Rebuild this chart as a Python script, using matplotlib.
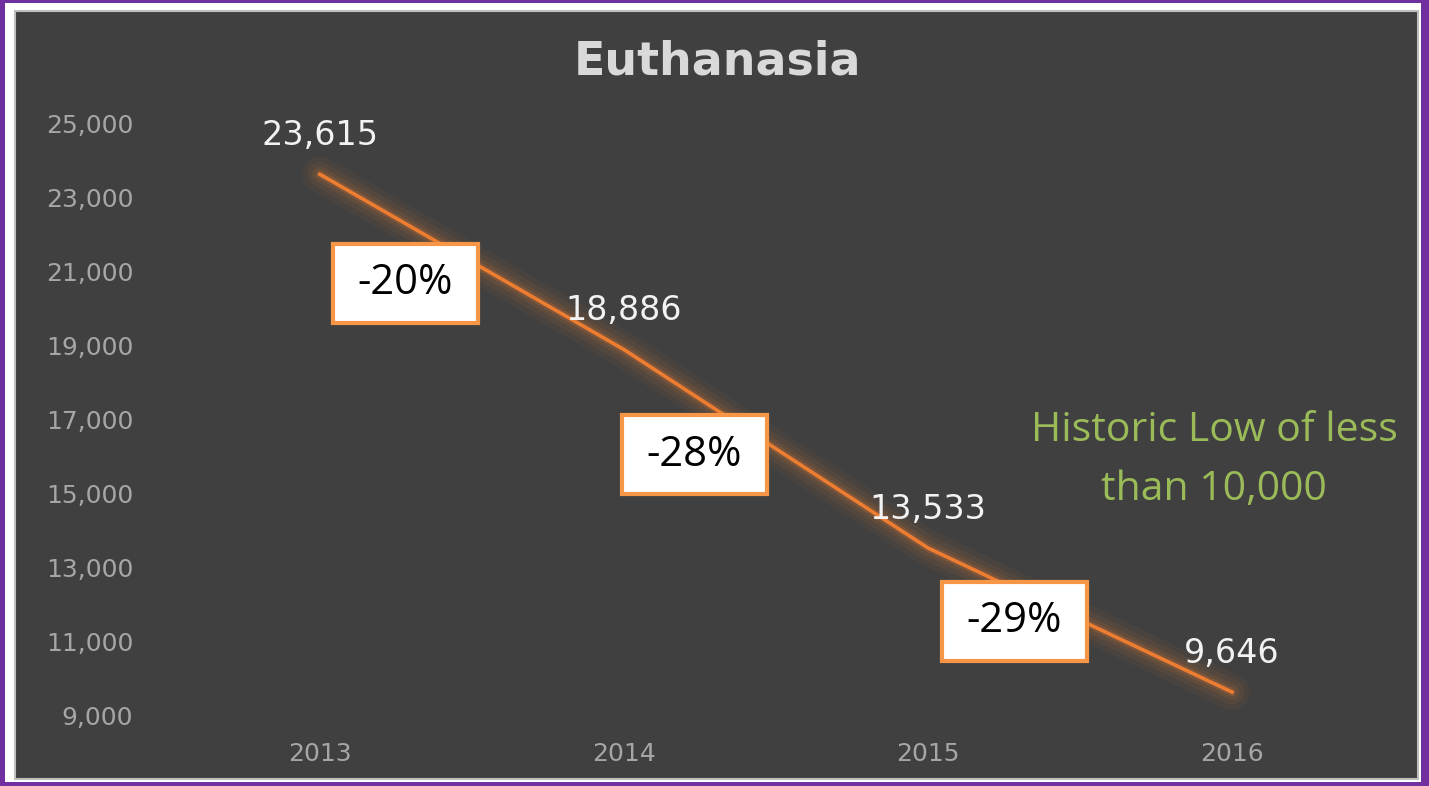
import matplotlib.pyplot as plt
from matplotlib.patches import Rectangle

# data
years = ['2013', '2014', '2015', '2016']
euthanasia = [23615, 18886, 13533, 9646]
changes = ['-20%', '-28%', '-29%']
y_ticks = list(range(9000, 25001, 2000))
note = 'Historic Low of less\nthan 10,000'

# layout of the callout boxes (center x in category units, center y in data units)
box_pos = [(0.281, 20670), (1.232, 16043), (2.283, 11550)]
box_w, box_h = 0.477, 2132

W, H = 1429, 786
fig = plt.figure(figsize=(W / 100, H / 100), dpi=100)
fig.patch.set_facecolor('#7030A0')

# white mat + dark chart area
fig.add_artist(Rectangle((5 / W, 4 / H), 1416 / W, 779 / H, transform=fig.transFigure,
                         facecolor='white', edgecolor='none', zorder=0))
fig.add_artist(Rectangle((15 / W, 7 / H), 1403 / W, 768 / H, transform=fig.transFigure,
                         facecolor='#404040', edgecolor='#BFBFBF', linewidth=1.5, zorder=0))

ax = fig.add_axes([168 / W, 70 / H, (1384 - 168) / W, (716 - 123) / H])
ax.set_facecolor('none')
x = list(range(len(years)))

# glow under the line
for lw, a in [(26, 0.05), (18, 0.07), (11, 0.1), (6, 0.18)]:
    ax.plot(x, euthanasia, color='#ED7D31', linewidth=lw, alpha=a,
            solid_capstyle='round', zorder=2)
ax.plot(x, euthanasia, color='#ED7D31', linewidth=2.6, zorder=3)

for xi, v in zip(x, euthanasia):
    ax.annotate(f'{v:,}', (xi, v), xytext=(0, 28), textcoords='offset points',
                ha='center', va='center', color='#F2F2F2', fontsize=24, zorder=4)

for (bx, by), lab in zip(box_pos, changes):
    ax.add_patch(Rectangle((bx - box_w / 2, by - box_h / 2), box_w, box_h,
                           facecolor='white', edgecolor='#F79646', linewidth=3, zorder=5))
    ax.text(bx, by, lab, ha='center', va='center', fontsize=30,
            family='Open Sans', color='black', zorder=6)

ax.text(2.941, 15900, note, ha='center', va='center', fontsize=29.5,
        family='Open Sans', color='#9BBB59', linespacing=1.6, zorder=4)

ax.set_xlim(-0.5, 3.5)
ax.set_ylim(9000, 25000)
ax.set_xticks(x)
ax.set_xticklabels(years)
ax.set_yticks(y_ticks)
ax.set_yticklabels([f'{t:,}' for t in y_ticks])
ax.tick_params(length=0, colors='#A6A6A6', labelsize=18)
ax.tick_params(axis='y', pad=25)
ax.tick_params(axis='x', pad=19)
for s in ax.spines.values():
    s.set_visible(False)

fig.text(718 / W, 1 - 62 / H, 'Euthanasia', ha='center', va='center',
         fontsize=33, fontweight='bold', color='#D9D9D9')

fig.savefig('out.png', dpi=100, facecolor=fig.get_facecolor())
